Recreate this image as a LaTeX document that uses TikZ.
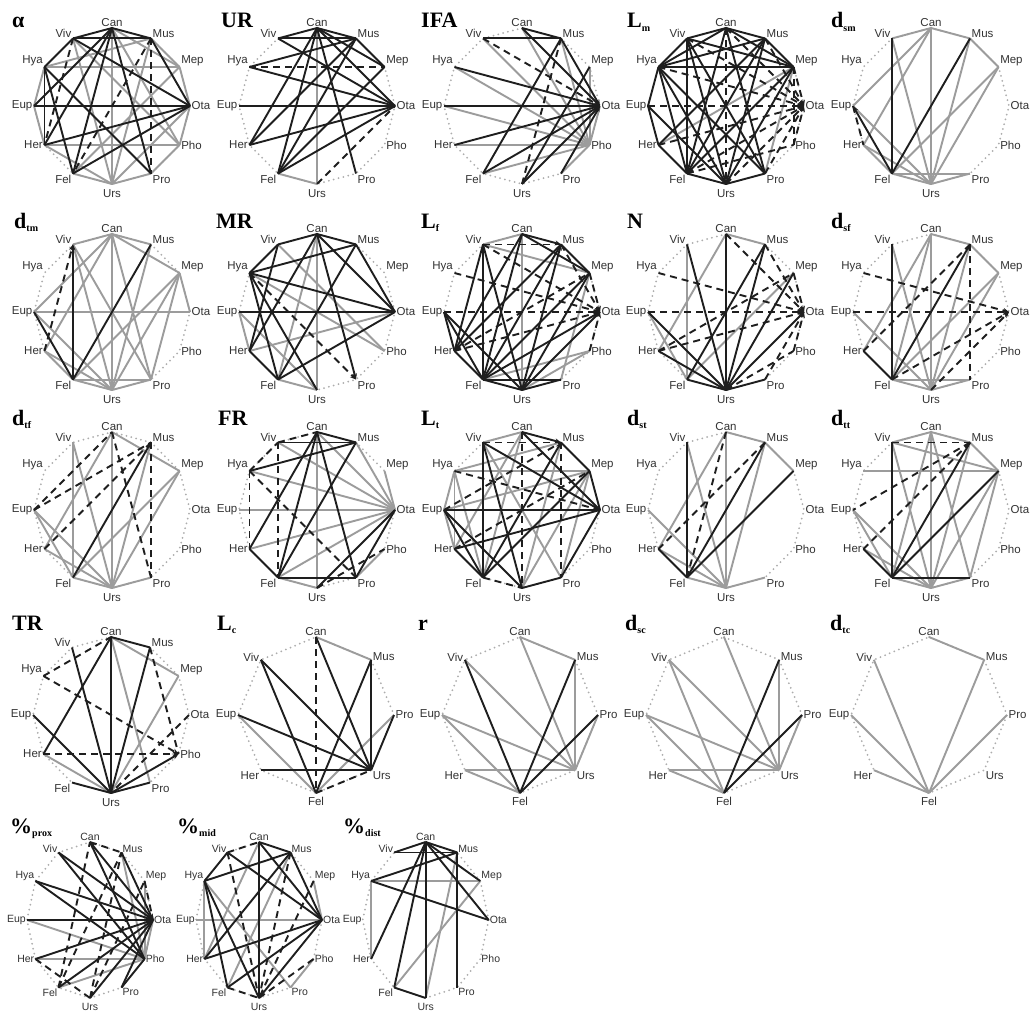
\documentclass[tikz,border=0pt]{standalone}
\usepackage{fontspec}
\setmainfont{Liberation Sans}
\newfontfamily\titlefont{Liberation Serif}
\usetikzlibrary{arrows.meta,calc}
\definecolor{cblack}{HTML}{1E1E1E}
\definecolor{cgray}{HTML}{9C9C9C}
\definecolor{cdot}{HTML}{ADADAD}
\definecolor{ctext}{HTML}{333333}
\tikzset{
 ek/.style={draw=cblack, line width=1.9pt},
 eg/.style={draw=cgray, line width=1.9pt},
 ed/.style={draw=cblack, line width=1.9pt, dash pattern=on 7pt off 5pt},
 outl/.style={draw=cdot, line width=2pt, line cap=round, dash pattern=on 0pt off 5pt},
 lbl/.style={text=ctext, font=\fontsize{11.5}{13}\selectfont, inner sep=1.5pt},
 ttl/.style={font=\titlefont\bfseries\fontsize{22}{24}\selectfont, anchor=base west, inner sep=0pt},
 arr/.style={-{Stealth[length=6pt,width=5pt]}},
}
\newcommand\sbs[1]{\raisebox{-3.5pt}{\fontsize{10}{10}\selectfont #1}}
\newcommand\PTwelve[4]{%
 \foreach \n/\ang in {Can/90,Mus/60,Mep/30,Ota/0,Pho/-30,Pro/-60,Urs/-90,Fel/-120,Her/-150,Eup/180,Hya/150,Viv/120}
  {\coordinate (#1-\n) at ([shift={(#2,-#3)}]\ang:#4 and 78);}
 \draw[outl] (#1-Can)--(#1-Mus)--(#1-Mep)--(#1-Ota)--(#1-Pho)--(#1-Pro)--(#1-Urs)--(#1-Fel)--(#1-Her)--(#1-Eup)--(#1-Hya)--(#1-Viv)--cycle;
 \foreach \n/\anc/\ys in {Can/south/0,Mus/south west/-1,Mep/south west/-1,Ota/west/0,Pho/west/0,Pro/north west/0,Urs/north/-4,Fel/north east/0,Her/east/0,Eup/east/0,Hya/south east/-1,Viv/south east/-1}
  {\node[lbl,anchor=\anc,yshift=\ys] (#1-L\n) at (#1-\n) {\n};}
}
\newcommand\PEight[3]{%
 \foreach \n/\ang in {Can/90,Mus/45,Pro/0,Urs/-45,Fel/-90,Her/-135,Eup/180,Viv/135}
  {\coordinate (#1-\n) at ([shift={(#2,-#3)}]\ang:78);}
 \draw[outl] (#1-Can)--(#1-Mus)--(#1-Pro)--(#1-Urs)--(#1-Fel)--(#1-Her)--(#1-Eup)--(#1-Viv)--cycle;
 \foreach \n/\anc/\ys in {Can/south/0,Mus/west/3,Pro/west/0,Urs/north west/0,Fel/north/-2,Her/north east/0,Eup/east/0,Viv/east/3}
  {\node[lbl,anchor=\anc,yshift=\ys] (#1-L\n) at (#1-\n) {\n};}
}
\newcommand\EK[2]{\foreach \p/\q in {#2}{\draw[ek] (#1-\p) -- (#1-\q);}}
\newcommand\EG[2]{\foreach \p/\q in {#2}{\draw[eg] (#1-\p) -- (#1-\q);}}
\newcommand\ED[2]{\foreach \p/\q in {#2}{\draw[ed] (#1-\p) -- (#1-\q);}}
\newcommand\EKA[2]{\foreach \p/\q in {#2}{\draw[ek,arr] (#1-\p) -- (#1-\q);}}
\newcommand\EDA[2]{\foreach \p/\q in {#2}{\draw[ed,arr] (#1-\p) -- (#1-\q);}}
\begin{document}
\begin{tikzpicture}[x=1pt,y=1pt]
\useasboundingbox (0,0) rectangle (1036,-1014);
\fill[white] (0,0) rectangle (1036,-1014);

% ---------- Row 1 ----------
\PTwelve{al}{112}{106}{78}
\EG{al}{Can/Mep,Can/Pho,Can/Urs,Mus/Mep,Mus/Urs,Viv/Urs,Viv/Pho,Hya/Mep,Hya/Mus,Hya/Eup,Eup/Her,Her/Pho,Her/Urs,Fel/Urs,Urs/Pro,Ota/Urs,Mep/Ota,Ota/Pho,Pho/Pro,Mep/Fel}
\EK{al}{Can/Viv,Can/Mus,Viv/Mus,Viv/Hya,Can/Her,Can/Fel,Can/Pro,Mus/Ota,Viv/Ota,Hya/Pro,Hya/Fel,Hya/Her,Her/Ota,Fel/Ota,Eup/Ota,Eup/Can}
\ED{al}{Viv/Her,Mus/Fel,Mus/Pro}
\node[ttl] (t-al) at (12,-28) {α};

\PTwelve{ur}{317}{106}{78}
\EG{ur}{Can/Urs,Fel/Urs}
\EK{ur}{Can/Viv,Viv/Mus,Can/Mus,Hya/Mus,Hya/Ota,Eup/Ota,Can/Her,Can/Fel,Can/Pro,Can/Ota,Viv/Ota,Can/Mep,Mus/Mep,Her/Mus,Her/Ota,Fel/Mus,Fel/Mep,Fel/Ota}
\ED{ur}{Hya/Mep,Urs/Ota}
\node[ttl] (t-ur) at (221,-28) {UR};

\PTwelve{ifa}{522}{106}{78}
\EG{ifa}{Can/Pho,Viv/Pho,Mep/Pho,Hya/Pho,Eup/Pho,Her/Pho,Fel/Pho,Pro/Pho,Ota/Pho,Mus/Pho}
\EK{ifa}{Can/Mus,Viv/Mus,Mus/Fel,Urs/Mep}
\EKA{ifa}{Can/Ota,Mus/Ota,Hya/Ota,Eup/Ota,Her/Ota,Fel/Ota,Urs/Ota,Pro/Ota}
\ED{ifa}{Mus/Urs}
\EDA{ifa}{Viv/Ota}
\node[ttl] (t-ifa) at (421,-28) {IFA};

\PTwelve{lm}{726}{106}{78}
\EG{lm}{Her/Mep,Mep/Pro}
\EK{lm}{Can/Viv,Can/Mus,Viv/Hya,Mus/Mep,Hya/Eup,Eup/Her,Her/Fel,Fel/Urs,Urs/Pro,Hya/Mep,Viv/Fel,Can/Hya,Can/Mep,Viv/Mep,Hya/Mus,Can/Fel,Can/Pro,Mus/Fel,Mus/Urs,Hya/Fel,Hya/Urs,Hya/Pro,Mep/Urs,Mep/Fel,Eup/Urs,Viv/Urs,Viv/Pro,Her/Mus}
\ED{lm}{Can/Urs,Mep/Pho,Fel/Pho}
\EDA{lm}{Eup/Ota,Viv/Ota,Hya/Ota,Her/Ota,Fel/Ota,Urs/Ota,Pro/Ota,Mus/Ota,Pho/Ota,Mep/Ota,Can/Ota}
\node[ttl] (t-lm) at (627,-28) {L\sbs{m}};

\PTwelve{dsm}{931}{106}{78}
\EG{dsm}{Can/Viv,Can/Mus,Mus/Mep,Can/Urs,Eup/Can,Her/Can,Eup/Urs,Her/Urs,Fel/Urs,Fel/Pro,Urs/Pro,Viv/Urs,Mus/Urs,Mep/Fel,Mep/Urs,Her/Fel}
\EK{dsm}{Viv/Fel,Mus/Fel}
\EKA{dsm}{Fel/Eup}
\ED{dsm}{Eup/Her}
\node[ttl] (t-dsm) at (831,-28) {d\sbs{sm}};

% ---------- Row 2 ----------
\PTwelve{dtm}{112}{312}{78}
\EG{dtm}{Can/Viv,Can/Mus,Can/Mep,Mep/Ota,Eup/Ota,Eup/Can,Her/Can,Can/Urs,Viv/Urs,Viv/Pro,Can/Pro,Mus/Urs,Mep/Fel,Mep/Urs,Mep/Pro,Eup/Urs,Her/Urs,Fel/Urs,Fel/Pro,Urs/Pro,Her/Fel}
\EK{dtm}{Mus/Fel,Eup/Fel}
\EKA{dtm}{Fel/Viv}
\EDA{dtm}{Her/Viv}
\node[ttl] (t-dtm) at (14,-228) {d\sbs{tm}};

\PTwelve{mr}{317}{312}{78}
\EG{mr}{Can/Urs,Can/Fel,Viv/Pho,Hya/Pho,Eup/Urs,Her/Ota,Fel/Urs,Eup/Her}
\EK{mr}{Viv/Can,Can/Mus,Hya/Viv,Hya/Mus,Can/Ota,Mus/Ota,Hya/Ota,Hya/Fel,Hya/Urs,Eup/Ota,Her/Fel,Her/Can,Fel/Mus,Fel/Ota,Viv/Her}
\EKA{mr}{Can/Pro}
\EDA{mr}{Hya/Pro}
\node[ttl] (t-mr) at (216,-228) {MR};

\PTwelve{lf}{522}{312}{78}
\EG{lf}{Viv/Can,Viv/Mep,Can/Urs,Fel/Pho,Urs/Pho,Pro/Mep}
\EK{lf}{Can/Mep,Viv/Fel,Viv/Her,Viv/Urs,Can/Her,Eup/Her,Eup/Urs,Eup/Fel,Her/Fel,Her/Mus,Fel/Mep,Fel/Ota,Fel/Urs,Fel/Pro,Urs/Mep,Urs/Ota,Urs/Pro,Can/Fel,Mus/Mep}
\EKA{lf}{Can/Mus,Fel/Mus,Urs/Mus}
\ED{lf}{Viv/Mus,Her/Mep}
\EDA{lf}{Mus/Ota,Mep/Ota,Hya/Ota,Eup/Ota,Her/Ota,Viv/Ota,Pho/Ota}
\node[ttl] (t-lf) at (421,-228) {L\sbs{f}};

\PTwelve{nn}{726}{312}{78}
\EG{nn}{Can/Mus,Can/Her,Viv/Fel,Mep/Fel,Eup/Fel}
\EK{nn}{Can/Urs,Viv/Urs,Mus/Fel,Eup/Urs,Her/Urs,Fel/Urs,Urs/Ota,Urs/Pro,Urs/Mep,Mus/Urs}
\ED{nn}{Urs/Pho,Her/Mep}
\EDA{nn}{Can/Ota,Hya/Ota,Eup/Ota,Her/Ota,Mus/Ota,Mep/Ota,Pro/Ota,Pho/Ota}
\node[ttl] (t-nn) at (627,-228) {N};

\PTwelve{dsf}{931}{312}{78}
\EG{dsf}{Can/Mus,Mus/Mep,Can/Urs,Can/Her,Viv/Urs,Mus/Urs,Eup/Urs,Fel/Urs,Fel/Pro,Urs/Pro,Fel/Mep,Urs/Mep,Can/Fel}
\EK{dsf}{Viv/Fel,Her/Fel}
\EKA{dsf}{Fel/Mus}
\ED{dsf}{Mus/Pro,Her/Mus}
\EDA{dsf}{Hya/Ota,Eup/Ota,Fel/Ota,Urs/Ota}
\node[ttl] (t-dsf) at (831,-228) {d\sbs{sf}};

% ---------- Row 3 ----------
\PTwelve{dtf}{112}{510}{78}
\EG{dtf}{Can/Mep,Can/Urs,Can/Her,Viv/Fel,Viv/Urs,Mus/Urs,Mep/Fel,Mep/Urs,Eup/Fel,Eup/Urs,Her/Urs,Fel/Urs,Urs/Pro}
\EKA{dtf}{Fel/Mus}
\ED{dtf}{Can/Pro,Eup/Can,Mus/Pro,Eup/Mus,Her/Mus}
\node[ttl] (t-dtf) at (12,-425) {d\sbs{tf}};

\PTwelve{fr}{317}{510}{78}
\EG{fr}{Can/Urs,Viv/Ota,Mus/Ota,Hya/Ota,Mep/Ota,Eup/Ota,Her/Ota,Fel/Ota,Fel/Urs,Pro/Pho,Can/Ota}
\EK{fr}{Can/Mus,Viv/Mus,Hya/Mus,Can/Fel,Can/Pro,Her/Fel,Her/Can,Fel/Pro,Urs/Ota,Pro/Ota,Fel/Mus}
\ED{fr}{Viv/Can,Hya/Viv,Viv/Fel,Hya/Her,Hya/Pro,Urs/Pho}
\node[ttl] (t-fr) at (218,-425) {FR};

\PTwelve{lt}{522}{510}{78}
\EG{lt}{Viv/Can,Hya/Mep,Hya/Mus,Hya/Eup,Hya/Her,Hya/Fel,Eup/Mep,Can/Her,Can/Fel,Viv/Pro,Urs/Mus,Urs/Mep,Mep/Pro,Her/Eup}
\EK{lt}{Can/Ota,Viv/Fel,Viv/Urs,Viv/Ota,Eup/Ota,Eup/Fel,Eup/Urs,Her/Ota,Her/Fel,Fel/Mep,Urs/Pro,Pro/Ota,Mep/Ota,Mus/Mep}
\EKA{lt}{Can/Mus,Fel/Mus}
\ED{lt}{Viv/Mus,Can/Urs,Mus/Pro,Fel/Urs,Eup/Mus,Her/Mep}
\EDA{lt}{Hya/Ota}
\node[ttl] (t-lt) at (421,-425) {L\sbs{t}};

\PTwelve{dst}{726}{510}{78}
\EG{dst}{Can/Mus,Mus/Mep,Can/Urs,Can/Her,Viv/Urs,Mus/Urs,Eup/Urs,Her/Urs,Fel/Urs,Urs/Pro}
\EK{dst}{Viv/Fel,Mus/Fel,Mep/Fel,Her/Fel}
\ED{dst}{Can/Fel,Mus/Her}
\node[ttl] (t-dst) at (627,-425) {d\sbs{st}};

\PTwelve{dtt}{931}{510}{78}
\EG{dtt}{Can/Viv,Can/Mus,Viv/Mep,Mus/Mep,Hya/Mep,Viv/Urs,Can/Urs,Can/Pro,Can/Fel,Mus/Urs,Mep/Urs,Mep/Pro,Eup/Urs,Eup/Fel,Her/Urs,Fel/Urs,Urs/Pro}
\EK{dtt}{Viv/Fel,Mus/Fel,Mep/Fel,Her/Fel,Fel/Pro}
\ED{dtt}{Viv/Mus,Mus/Eup,Mus/Her}
\node[ttl] (t-dtt) at (831,-425) {d\sbs{tt}};

% ---------- Row 4 ----------
\PTwelve{tr}{111}{715}{78}
\EG{tr}{Can/Pro,Can/Mep,Mep/Urs,Her/Urs}
\EK{tr}{Can/Mus,Can/Urs,Can/Her,Viv/Urs,Mus/Urs,Eup/Urs,Fel/Urs,Urs/Pro}
\EKA{tr}{Urs/Pho}
\ED{tr}{Hya/Can,Mus/Pho,Ota/Urs}
\EDA{tr}{Hya/Pho,Her/Pho}
\node[ttl] (t-tr) at (12,-630) {TR};

\PEight{lc}{316}{715}
\EG{lc}{Can/Mus,Eup/Fel,Fel/Pro}
\EK{lc}{Can/Urs,Viv/Fel,Viv/Urs,Mus/Urs,Mus/Fel,Eup/Urs,Her/Urs,Urs/Pro}
\ED{lc}{Can/Fel,Fel/Urs}
\node[ttl] (t-lc) at (217,-630) {L\sbs{c}};

\PEight{rr}{520}{715}
\EG{rr}{Can/Mus,Can/Urs,Viv/Urs,Eup/Urs,Eup/Fel,Her/Urs,Her/Fel,Mus/Urs,Pro/Urs}
\EK{rr}{Viv/Fel,Mus/Fel,Pro/Fel}
\node[ttl] (t-rr) at (418,-630) {r};

\PEight{dsc}{724}{715}
\EG{dsc}{Can/Urs,Viv/Fel,Viv/Urs,Mus/Urs,Pro/Urs,Eup/Urs,Eup/Fel,Her/Urs,Her/Fel}
\EK{dsc}{Mus/Fel,Pro/Fel}
\node[ttl] (t-dsc) at (625,-630) {d\sbs{sc}};

\PEight{dtc}{929}{715}
\EG{dtc}{Can/Mus,Viv/Fel,Mus/Fel,Pro/Fel,Eup/Fel,Her/Fel}
\node[ttl] (t-dtc) at (830,-630) {d\sbs{tc}};

% ---------- Row 5 ----------
\begin{scope}[lbl/.append style={font=\fontsize{10.5}{12}\selectfont, inner sep=1pt}]
\PTwelve{pp}{90}{920}{63}
\EG{pp}{Mus/Pho,Mep/Pho,Eup/Pho,Her/Pho,Fel/Pho,Pho/Ota}
\EK{pp}{Can/Pho,Viv/Pho,Hya/Pho,Pro/Ota,Urs/Ota,Pro/Pho}
\EKA{pp}{Viv/Ota,Hya/Ota,Eup/Ota,Her/Ota,Fel/Ota,Mus/Ota,Ota/Can}
\ED{pp}{Can/Mus,Mep/Ota,Fel/Can,Urs/Mep,Urs/Mus,Her/Urs,Fel/Mus}
\node[ttl] (t-pp) at (10,-833) {\%\sbs{prox}};

\PTwelve{pm}{259}{920}{63}
\EG{pm}{Eup/Ota,Hya/Her,Hya/Pro,Her/Can,Fel/Mus,Pho/Pro,Mep/Ota}
\EK{pm}{Can/Urs,Can/Mus,Can/Ota,Viv/Hya,Hya/Mus,Viv/Ota,Hya/Fel,Hya/Urs,Her/Mus,Her/Ota,Fel/Ota,Mus/Ota,Urs/Ota}
\ED{pm}{Viv/Can,Viv/Urs,Mus/Urs,Mep/Urs,Pho/Urs,Fel/Urs}
\node[ttl] (t-pm) at (177,-833) {\%\sbs{mid}};

\PTwelve{pd}{425.7}{920}{63}
\EG{pd}{Hya/Mep,Hya/Her,Mus/Urs,Mep/Fel}
\EK{pd}{Viv/Can,Viv/Mus,Can/Mus,Can/Her,Can/Fel,Can/Urs,Can/Ota,Can/Mep,Hya/Mus,Hya/Ota,Mus/Pro,Fel/Urs}
\node[ttl] (t-pd) at (343,-833) {\%\sbs{dist}};
\end{scope}
\end{tikzpicture}
\end{document}
